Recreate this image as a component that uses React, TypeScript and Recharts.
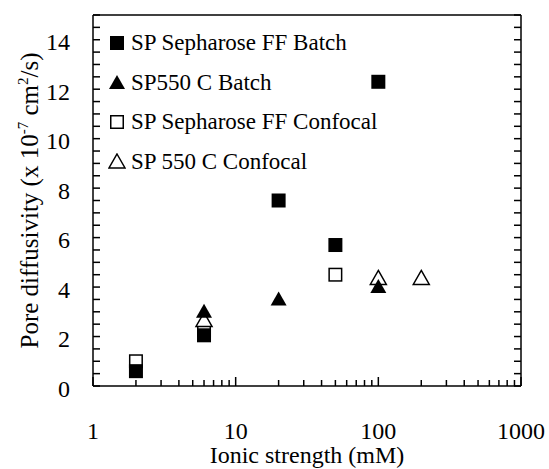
import React from 'react';
import {
  ScatterChart, Scatter, XAxis, YAxis, ReferenceLine,
} from 'recharts';

// data (ionic strength mM, pore diffusivity x1e-7 cm2/s)
const ffBatch = [
  { x: 2, y: 0.6 }, { x: 6, y: 2.05 }, { x: 20, y: 7.5 }, { x: 50, y: 5.7 }, { x: 100, y: 12.3 },
];
const c550Batch = [
  { x: 6, y: 3.0 }, { x: 20, y: 3.5 }, { x: 100, y: 4.0 },
];
const ffConfocal = [
  { x: 2, y: 1.0 }, { x: 6, y: 2.25 }, { x: 50, y: 4.5 },
];
const c550Confocal = [
  { x: 6, y: 2.65 }, { x: 100, y: 4.35 }, { x: 200, y: 4.35 },
];

const xTicks = [
  1, 2, 3, 4, 5, 6, 7, 8, 9,
  10, 20, 30, 40, 50, 60, 70, 80, 90,
  100, 200, 300, 400, 500, 600, 700, 800, 900, 1000,
];
const xLabelTicks = [1, 10, 100, 1000];
const yTicks = Array.from({ length: 31 }, (_, i) => i / 2);
const yLabelTicks = [0, 2, 4, 6, 8, 10, 12, 14];

const legendItems = [
  { name: 'SP Sepharose FF Batch', kind: 'sqFill' },
  { name: 'SP550 C Batch', kind: 'triFill' },
  { name: 'SP Sepharose FF Confocal', kind: 'sqOpen' },
  { name: 'SP 550 C Confocal', kind: 'triOpen' },
];

// inward tick marks, placed through the chart scales
const leftMarks = yTicks.map(v => ({ x: 1, y: v }));
const rightMarks = yTicks.map(v => ({ x: 1000, y: v }));
const bottomMarks = xTicks.map(v => ({ x: v, y: 0 }));

const W = 549;
const H = 469;
const LEFT_W = 93;
const RIGHT_W = 28;
const TOP = 15;
const X_H = 83;
const PLOT_LEFT = LEFT_W;
const PLOT_RIGHT = W - RIGHT_W;
const PLOT_BOTTOM = H - X_H;
const FONT = '"Liberation Serif", "Times New Roman", serif';
const axisStyle = { stroke: '#000', strokeWidth: 1.5 };
const tickFont = { fontSize: 24, fontFamily: FONT, fill: '#000' };

const Marker = ({ kind, cx, cy }: { kind: string; cx: number; cy: number }) => {
  const s = 7;
  if (kind === 'sqFill')
    return <rect x={cx - s} y={cy - s} width={2 * s} height={2 * s} fill="#000" />;
  if (kind === 'sqOpen')
    return <rect x={cx - s + 0.75} y={cy - s + 0.75} width={2 * s - 1.5} height={2 * s - 1.5}
                 fill="#fff" stroke="#000" strokeWidth={1.5} />;
  const pts = `${cx},${cy - 8} ${cx + 8},${cy + 6} ${cx - 8},${cy + 6}`;
  if (kind === 'triFill') return <polygon points={pts} fill="#000" />;
  return <polygon points={pts} fill="#fff" stroke="#000" strokeWidth={1.5} />;
};

const shapeOf = (kind: string) => (p: any) => <Marker kind={kind} cx={p.cx} cy={p.cy} />;

const leftMark = (p: any) => <line x1={p.cx} x2={p.cx + 7} y1={p.cy} y2={p.cy} stroke="#000" strokeWidth={1.5} />;
const rightMark = (p: any) => <line x1={p.cx - 7} x2={p.cx} y1={p.cy} y2={p.cy} stroke="#000" strokeWidth={1.5} />;
const bottomMark = (p: any) => {
  const major = xLabelTicks.includes(p.payload?.x);
  return <line x1={p.cx} x2={p.cx} y1={p.cy} y2={p.cy - (major ? 9 : 6)} stroke="#000" strokeWidth={1.5} />;
};

export default function App() {
  const midY = (TOP + PLOT_BOTTOM) / 2;
  const midX = (PLOT_LEFT + PLOT_RIGHT) / 2;
  return (
    <div style={{ position: 'absolute', left: 0, top: 0, width: W, height: H, background: '#fff' }}>
      <ScatterChart width={W} height={H} margin={{ top: TOP, right: 0, bottom: 0, left: 0 }}>
        <XAxis type="number" dataKey="x" scale="log" domain={[1, 1000]} ticks={xTicks}
               interval={0} height={X_H} tickSize={-7} tickMargin={43}
               tick={tickFont} tickLine={false}
               tickFormatter={(v: number) => (xLabelTicks.includes(v) ? String(v) : '')}
               axisLine={axisStyle} />
        <YAxis yAxisId="l" type="number" dataKey="y" domain={[0, 15]} ticks={yTicks}
               interval={0} width={LEFT_W} tickSize={-7} tickMargin={30}
               tick={{ ...tickFont, dy: 2 }} tickLine={false}
               tickFormatter={(v: number) => (yLabelTicks.includes(v) ? String(v) : '')}
               axisLine={axisStyle} />
        <YAxis yAxisId="r" orientation="right" type="number" domain={[0, 15]} ticks={yTicks}
               interval={0} width={RIGHT_W} tick={false} tickLine={false} axisLine={axisStyle} />
        <ReferenceLine yAxisId="l" y={15} stroke="#000" strokeWidth={1.5} />

        <Scatter yAxisId="l" data={leftMarks} shape={leftMark} isAnimationActive={false} />
        <Scatter yAxisId="l" data={rightMarks} shape={rightMark} isAnimationActive={false} />
        <Scatter yAxisId="l" data={bottomMarks} shape={bottomMark} isAnimationActive={false} />

        <Scatter yAxisId="l" data={ffConfocal} shape={shapeOf('sqOpen')} isAnimationActive={false} />
        <Scatter yAxisId="l" data={c550Confocal} shape={shapeOf('triOpen')} isAnimationActive={false} />
        <Scatter yAxisId="l" data={ffBatch} shape={shapeOf('sqFill')} isAnimationActive={false} />
        <Scatter yAxisId="l" data={c550Batch} shape={shapeOf('triFill')} isAnimationActive={false} />
      </ScatterChart>

      {/* axis titles in an overlay */}
      <svg width={W} height={H} style={{ position: 'absolute', left: 0, top: 0, pointerEvents: 'none' }}>
        <text x={midX} y={463} textAnchor="middle" fontSize={24} fontFamily={FONT} fill="#000">
          Ionic strength (mM)
        </text>
        <text x={0} y={0} textAnchor="middle" fontSize={25} fontFamily={FONT} fill="#000"
              transform={`translate(38, ${midY}) rotate(-90)`}>
          Pore diffusivity (x 10
          <tspan dy={-10} fontSize={15}>-7</tspan>
          <tspan dy={10}> cm</tspan>
          <tspan dy={-10} fontSize={15}>2</tspan>
          <tspan dy={10}>/s)</tspan>
        </text>
      </svg>

      {legendItems.map((it, i) => (
        <div key={it.name} style={{
          position: 'absolute', left: 108, top: 43 + i * 39.7 - 14, height: 28,
          display: 'flex', alignItems: 'center', fontFamily: FONT, fontSize: 23,
          whiteSpace: 'nowrap', color: '#000',
        }}>
          <svg width={18} height={18}>
            <Marker kind={it.kind} cx={9} cy={9} />
          </svg>
          <span style={{ marginLeft: 5 }}>{it.name}</span>
        </div>
      ))}
    </div>
  );
}
